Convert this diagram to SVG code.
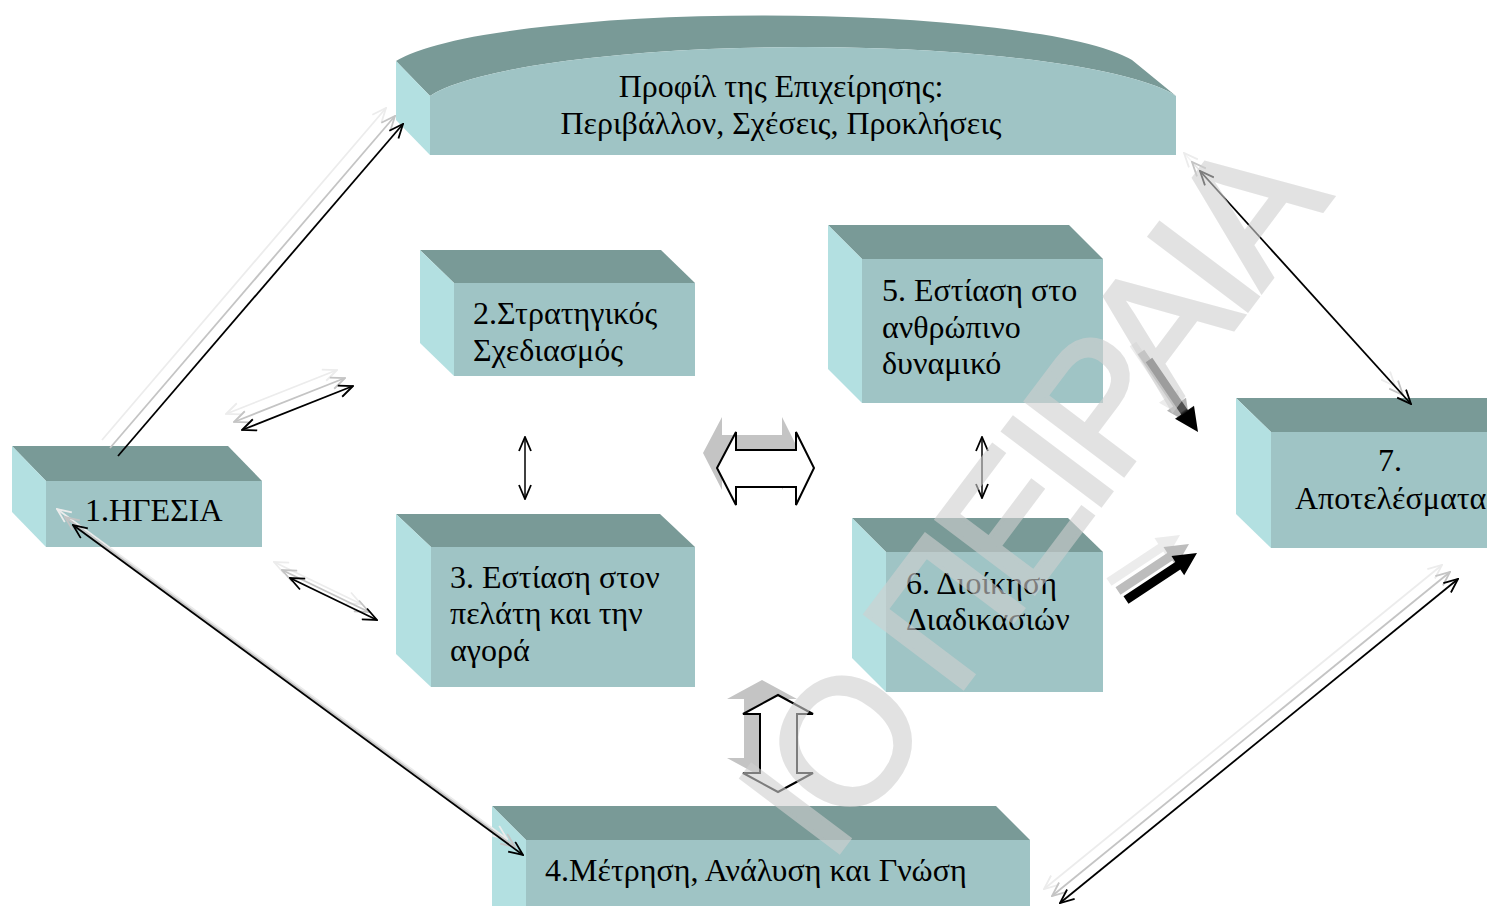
<svg xmlns="http://www.w3.org/2000/svg" xmlns:xlink="http://www.w3.org/1999/xlink" width="1487" height="906" viewBox="0 0 1487 906">
<style>
.top{fill:#799a97}
.side{fill:#b3e0e1}
.front{fill:#9fc4c5}
.lbl{font-family:"Liberation Serif","Times New Roman",serif;font-size:32px;fill:#000}
.k{fill:none;stroke:#000;stroke-width:1.8}
.g{fill:none;stroke:#c4c4c4;stroke-width:1.8}
.l{fill:none;stroke:#ececec;stroke-width:1.8}
.k2{fill:none;stroke:#000;stroke-width:1.5}
.wm{font-family:"Liberation Sans",Arial,sans-serif;font-size:178px;letter-spacing:-10px;fill:#d0d0d0;stroke:#d0d0d0;stroke-width:4;opacity:0.6}
</style>
<defs>
<marker id="mk" viewBox="0 0 16 14" refX="15" refY="7" markerWidth="16" markerHeight="14" markerUnits="userSpaceOnUse" orient="auto-start-reverse"><path d="M1,1 L15,7 L1,13" fill="none" stroke="#000" stroke-width="1.8"/></marker>
<marker id="mg" viewBox="0 0 16 14" refX="15" refY="7" markerWidth="16" markerHeight="14" markerUnits="userSpaceOnUse" orient="auto-start-reverse"><path d="M1,1 L15,7 L1,13" fill="none" stroke="#c4c4c4" stroke-width="1.8"/></marker>
<marker id="ml" viewBox="0 0 16 14" refX="15" refY="7" markerWidth="16" markerHeight="14" markerUnits="userSpaceOnUse" orient="auto-start-reverse"><path d="M1,1 L15,7 L1,13" fill="none" stroke="#ececec" stroke-width="1.8"/></marker>
<path id="ta1" d="M1145.7,362.3 L1181.2,414.5 L1175,418.7 L1198,432 L1194,405.7 L1187.8,410 L1152.3,357.7 Z"/>
<path id="ta2" d="M1128.5,603.8 L1180.3,569.5 L1184.2,575.3 L1197,553 L1171.5,556.1 L1175.3,561.9 L1123.5,596.2 Z"/>
<path id="bh" d="M717,468 L736,432 L736,450 L796,450 L796,432 L814,468 L796,505 L796,487 L736,487 L736,505 Z"/>
<path id="bv" d="M778,695 L813,714 L797,714 L797,773 L813,773 L778,792 L743,773 L760,773 L760,714 L743,714 Z"/>
<linearGradient id="gr1" gradientUnits="userSpaceOnUse" x1="1149" y1="360" x2="1198" y2="432"><stop offset="0" stop-color="#505050"/><stop offset="0.7" stop-color="#505050"/><stop offset="0.74" stop-color="#000"/><stop offset="1" stop-color="#000"/></linearGradient>
</defs>
<rect width="1487" height="906" fill="#fff"/>

<g id="profile">
<path class="top" d="M396,61 A380,60 0 0 1 1132,60 L1176,96 A385,65 0 0 0 430,96 Z"/>
<path class="side" d="M396,61 L430,96 L430,155 L396,120 Z"/>
<path class="front" d="M430,96 A385,65 0 0 1 1176,96 L1176,155 L430,155 Z"/>
<text class="lbl" x="781" y="97" text-anchor="middle">Προφίλ της Επιχείρησης:</text>
<text class="lbl" x="781" y="134" text-anchor="middle">Περιβάλλον, Σχέσεις, Προκλήσεις</text>
</g>

<g id="box1">
<polygon class="top" points="12,446 228,446 262,481 46,481"/>
<polygon class="side" points="12,446 46,481 46,547 12,512"/>
<rect class="front" x="46" y="481" width="216" height="66"/>
<text class="lbl" x="85" y="521">1.ΗΓΕΣΙΑ</text>
</g>

<g id="box2">
<polygon class="top" points="420,250 661,250 695,283 454,283"/>
<polygon class="side" points="420,250 454,283 454,376 420,343"/>
<rect class="front" x="454" y="283" width="241" height="93"/>
<text class="lbl" x="473" y="324">2.Στρατηγικός</text>
<text class="lbl" x="473" y="361">Σχεδιασμός</text>
</g>

<g id="box3">
<polygon class="top" points="396,514 660,514 695,547 431,547"/>
<polygon class="side" points="396,514 431,547 431,687 396,654"/>
<rect class="front" x="431" y="547" width="264" height="140"/>
<text class="lbl" x="450" y="588">3. Εστίαση στον</text>
<text class="lbl" x="450" y="624">πελάτη και την</text>
<text class="lbl" x="450" y="661">αγορά</text>
</g>

<g id="box4">
<polygon class="top" points="492,806 996,806 1030,840 526,840"/>
<polygon class="side" points="492,806 526,840 526,940 492,906"/>
<rect class="front" x="526" y="840" width="504" height="100"/>
<text class="lbl" x="545" y="881">4.Μέτρηση, Ανάλυση και Γνώση</text>
</g>

<g id="box5">
<polygon class="top" points="828,225 1069,225 1103,259 862,259"/>
<polygon class="side" points="828,225 862,259 862,403 828,369"/>
<rect class="front" x="862" y="259" width="241" height="144"/>
<text class="lbl" x="882" y="301">5. Εστίαση στο</text>
<text class="lbl" x="882" y="338">ανθρώπινο</text>
<text class="lbl" x="882" y="374">δυναμικό</text>
</g>

<g id="box6">
<polygon class="top" points="852,518 1068,518 1103,552 886,552"/>
<polygon class="side" points="852,518 886,552 886,692 852,658"/>
<rect class="front" x="886" y="552" width="217" height="140"/>
<text class="lbl" x="906" y="594">6. Διοίκηση</text>
<text class="lbl" x="906" y="630">Διαδικασιών</text>
</g>

<g id="box7">
<polygon class="top" points="1236,398 1500,398 1534,432 1271,432"/>
<polygon class="side" points="1236,398 1271,432 1271,548 1236,514"/>
<rect class="front" x="1271" y="432" width="260" height="116"/>
<text class="lbl" x="1390" y="471" text-anchor="middle">7.</text>
<text class="lbl" x="1295" y="509">Αποτελέσματα</text>
</g>

<g id="connectors">
<line class="l" x1="102" y1="440" x2="386" y2="108" marker-end="url(#ml)"/>
<line class="g" x1="110" y1="448" x2="395" y2="116" marker-end="url(#mg)"/>
<line class="k" x1="118" y1="456" x2="403" y2="124" marker-end="url(#mk)"/>
<line class="l" x1="226" y1="414" x2="337" y2="370" marker-start="url(#ml)" marker-end="url(#ml)"/>
<line class="g" x1="234" y1="422" x2="345" y2="378" marker-start="url(#mg)" marker-end="url(#mg)"/>
<line class="k" x1="242" y1="430" x2="353" y2="386" marker-start="url(#mk)" marker-end="url(#mk)"/>
<line class="l" x1="274" y1="562" x2="361" y2="604" marker-start="url(#ml)" marker-end="url(#ml)"/>
<line class="g" x1="282" y1="570" x2="369" y2="612" marker-start="url(#mg)" marker-end="url(#mg)"/>
<line class="k" x1="290" y1="578" x2="377" y2="620" marker-start="url(#mk)" marker-end="url(#mk)"/>
<line class="l" x1="57" y1="509" x2="507" y2="839" marker-start="url(#ml)" marker-end="url(#ml)"/>
<line class="g" x1="65" y1="517" x2="515" y2="847" marker-start="url(#mg)" marker-end="url(#mg)"/>
<line class="k" x1="73" y1="525" x2="523" y2="855" marker-start="url(#mk)" marker-end="url(#mk)"/>
<line class="l" x1="1044" y1="889" x2="1442" y2="565" marker-start="url(#ml)" marker-end="url(#ml)"/>
<line class="g" x1="1052" y1="896" x2="1450" y2="572" marker-start="url(#mg)" marker-end="url(#mg)"/>
<line class="k" x1="1060" y1="903" x2="1458" y2="579" marker-start="url(#mk)" marker-end="url(#mk)"/>
<line x1="1184" y1="153" x2="1395" y2="386" stroke="#f4f4f4" stroke-width="1.5" marker-start="url(#ml)" marker-end="url(#ml)"/>
<line x1="1192" y1="162" x2="1403" y2="395" stroke="#e4e4e4" stroke-width="1.5" marker-start="url(#mg)" marker-end="url(#mg)"/>
<line class="k" x1="1200" y1="171" x2="1411" y2="404" marker-start="url(#mk)" marker-end="url(#mk)"/>
<line class="k2" x1="525" y1="437" x2="525" y2="499" marker-start="url(#mk)" marker-end="url(#mk)"/>
<line class="k2" x1="982" y1="437" x2="982" y2="498" marker-start="url(#mk)" marker-end="url(#mk)"/>
<use xlink:href="#bh" href="#bh" transform="translate(-14,-15)" fill="#c4c4c4"/>
<use xlink:href="#bh" href="#bh" fill="#fff" stroke="#000" stroke-width="2"/>
<use xlink:href="#bv" href="#bv" transform="translate(-16,-15)" fill="#c4c4c4"/>
<use xlink:href="#bv" href="#bv" fill="#fff" stroke="#000" stroke-width="2"/>
<use xlink:href="#ta1" href="#ta1" transform="translate(-16,-16)" fill="#ececec"/>
<use xlink:href="#ta1" href="#ta1" transform="translate(-8,-8)" fill="#b4b4b4"/>
<use xlink:href="#ta1" href="#ta1" fill="url(#gr1)"/>
<use xlink:href="#ta2" href="#ta2" transform="translate(-17,-18)" fill="#ececec"/>
<use xlink:href="#ta2" href="#ta2" transform="translate(-8,-9)" fill="#bdbdbd"/>
<use xlink:href="#ta2" href="#ta2" fill="#000"/>
</g>

<text class="wm" transform="translate(1327,205) rotate(-53)" text-anchor="end">ΙΟ ΠΕΙΡΑΙΑ</text>
</svg>
